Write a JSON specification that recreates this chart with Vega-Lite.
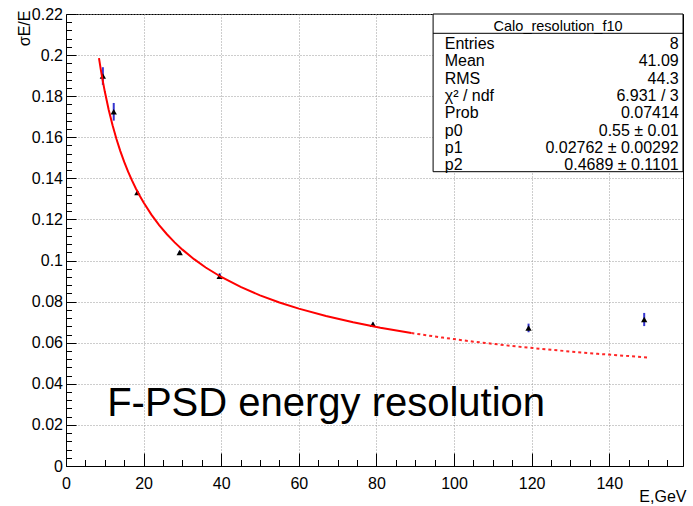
{
  "$schema": "https://vega.github.io/schema/vega-lite/v6.json",
  "width": 617,
  "height": 452,
  "autosize": {"type": "none"},
  "padding": {"left": 66, "top": 14, "right": 10, "bottom": 40},
  "background": "white",
  "config": {
    "view": {"stroke": "#000000", "strokeWidth": 1},
    "font": "Liberation Sans",
    "axis": {"domainColor": "#000000", "tickColor": "#000000", "labelColor": "#000000", "titleColor": "#000000", "labelFont": "Liberation Sans", "titleFont": "Liberation Sans", "titleFontWeight": "normal"}
  },
  "datasets": {
    "points": [
      {"E": 9.5, "sigma": 0.1898, "err": 0.0043},
      {"E": 12.3, "sigma": 0.1724, "err": 0.0043},
      {"E": 18.4, "sigma": 0.1331, "err": 0.0008},
      {"E": 29.3, "sigma": 0.1039, "err": 0.0008},
      {"E": 39.6, "sigma": 0.0924, "err": 0.0014},
      {"E": 79.1, "sigma": 0.0690, "err": 0.0008},
      {"E": 119.2, "sigma": 0.0672, "err": 0.0021},
      {"E": 149.0, "sigma": 0.0713, "err": 0.0032}
    ],
    "fit": [
      {"E": 8.5, "f": 0.19848}, {"E": 9, "f": 0.19258}, {"E": 9.5, "f": 0.18719}, {"E": 10, "f": 0.18224},
      {"E": 11, "f": 0.17344}, {"E": 12, "f": 0.16583}, {"E": 13, "f": 0.15916}, {"E": 14, "f": 0.15327},
      {"E": 15, "f": 0.14801}, {"E": 16, "f": 0.14328}, {"E": 17, "f": 0.13899}, {"E": 18, "f": 0.13508},
      {"E": 19, "f": 0.13150}, {"E": 20, "f": 0.12821}, {"E": 22, "f": 0.12234}, {"E": 24, "f": 0.11726},
      {"E": 26, "f": 0.11280}, {"E": 28, "f": 0.10884}, {"E": 30, "f": 0.10531}, {"E": 33, "f": 0.10066},
      {"E": 36, "f": 0.09662}, {"E": 40, "f": 0.09199}, {"E": 45, "f": 0.08714}, {"E": 50, "f": 0.08307},
      {"E": 55, "f": 0.07960}, {"E": 60, "f": 0.07659}, {"E": 67, "f": 0.07299}, {"E": 74, "f": 0.06994},
      {"E": 81, "f": 0.06731}, {"E": 89, "f": 0.06473}, {"E": 97, "f": 0.06249}, {"E": 105, "f": 0.06053},
      {"E": 115, "f": 0.05840}, {"E": 125, "f": 0.05654}, {"E": 137, "f": 0.05461}, {"E": 150, "f": 0.05282}
    ],
    "stats": [
      {"line": 1, "label": "Entries", "value": "8"},
      {"line": 2, "label": "Mean", "value": "41.09"},
      {"line": 3, "label": "RMS", "value": "44.3"},
      {"line": 4, "label": "χ² / ndf", "value": "6.931 / 3"},
      {"line": 5, "label": "Prob", "value": "0.07414"},
      {"line": 6, "label": "p0", "value": "0.55 ± 0.01"},
      {"line": 7, "label": "p1", "value": "0.02762 ± 0.00292"},
      {"line": 8, "label": "p2", "value": "0.4689 ± 0.1101"}
    ],
    "one": [{}]
  },
  "layer": [
    {
      "data": {"name": "points"},
      "mark": {"type": "errorbar", "color": "#3535d0", "thickness": 2},
      "encoding": {
        "x": {"field": "E", "type": "quantitative", "scale": {"domain": [0, 159], "nice": false, "zero": false}, "axis": null},
        "y": {"field": "sigma", "type": "quantitative", "scale": {"domain": [0, 0.22], "nice": false, "zero": false}, "axis": null},
        "yError": {"field": "err"}
      }
    },
    {
      "data": {"name": "points"},
      "mark": {"type": "point", "shape": "triangle-up", "filled": true, "color": "#000000", "size": 40, "opacity": 1},
      "encoding": {
        "x": {"field": "E", "type": "quantitative", "scale": {"domain": [0, 159], "nice": false, "zero": false},
          "axis": {"orient": "bottom", "values": [0, 20, 40, 60, 80, 100, 120, 140], "format": "d", "tickSize": -13, "labelPadding": 22, "labelFontSize": 16, "labelFlush": false, "labelOverlap": false, "grid": true, "gridColor": "#9a9a9a", "gridDash": [1, 2], "gridWidth": 1, "title": "E,GeV", "titleFontSize": 16, "titleAlign": "right", "titleAnchor": "end", "titleX": 620, "titleY": 35, "titleBaseline": "alphabetic"}},
        "y": {"field": "sigma", "type": "quantitative", "scale": {"domain": [0, 0.22], "nice": false, "zero": false},
          "axis": {"orient": "left", "values": [0, 0.02, 0.04, 0.06, 0.08, 0.1, 0.12, 0.14, 0.16, 0.18, 0.2, 0.22], "format": "~g", "tickSize": -10, "labelPadding": 13.5, "labelFontSize": 16, "labelFlush": false, "labelOverlap": false, "grid": true, "gridColor": "#9a9a9a", "gridDash": [1, 2], "gridWidth": 1, "title": "σE/E", "titleFontSize": 16, "titleAngle": -90, "titleAlign": "right", "titleAnchor": "end", "titleBaseline": "middle", "titleX": -42, "titleY": -4}}
      }
    },
    {
      "data": {"name": "fit"},
      "transform": [{"filter": "datum.E <= 89"}],
      "mark": {"type": "line", "color": "#ff0000", "strokeWidth": 2},
      "encoding": {
        "x": {"field": "E", "type": "quantitative",
          "axis": {"orient": "bottom", "values": [5, 10, 15, 25, 30, 35, 45, 50, 55, 65, 70, 75, 85, 90, 95, 105, 110, 115, 125, 130, 135, 145, 150, 155], "tickSize": -6.5, "labels": false, "domain": false, "grid": false, "title": null}},
        "y": {"field": "f", "type": "quantitative", "scale": {"domain": [0, 0.22], "nice": false, "zero": false},
          "axis": {"orient": "left", "values": [0.004, 0.008, 0.012, 0.016, 0.024, 0.028, 0.032, 0.036, 0.044, 0.048, 0.052, 0.056, 0.064, 0.068, 0.072, 0.076, 0.084, 0.088, 0.092, 0.096, 0.104, 0.108, 0.112, 0.116, 0.124, 0.128, 0.132, 0.136, 0.144, 0.148, 0.152, 0.156, 0.164, 0.168, 0.172, 0.176, 0.184, 0.188, 0.192, 0.196, 0.204, 0.208, 0.212, 0.216], "tickSize": -5.5, "labels": false, "domain": false, "grid": false, "title": null}}
      }
    },
    {
      "data": {"name": "fit"},
      "transform": [{"filter": "datum.E >= 89"}],
      "mark": {"type": "line", "color": "#ff0000", "strokeWidth": 2, "strokeDash": [3, 3], "opacity": 0.85},
      "encoding": {
        "x": {"field": "E", "type": "quantitative", "axis": null},
        "y": {"field": "f", "type": "quantitative", "scale": {"domain": [0, 0.22], "nice": false, "zero": false}, "axis": null}
      }
    },
    {
      "data": {"name": "one"},
      "mark": {"type": "text", "text": "F-PSD energy resolution", "font": "Liberation Sans", "fontSize": 40, "align": "left", "baseline": "alphabetic", "color": "#000000"},
      "encoding": {
        "x": {"datum": 10.6, "type": "quantitative", "axis": null},
        "y": {"datum": 0.0245, "type": "quantitative", "scale": {"domain": [0, 0.22], "nice": false, "zero": false}, "axis": null}
      }
    },
    {
      "data": {"name": "one"},
      "mark": {"type": "rect", "fill": "#ffffff", "stroke": "#000000", "strokeWidth": 1},
      "encoding": {
        "x": {"datum": 94.6, "type": "quantitative", "axis": null},
        "x2": {"datum": 159},
        "y": {"datum": -0.734, "type": "quantitative", "scale": {"domain": [-0.734, 25.39], "reverse": true, "nice": false, "zero": false}, "axis": null},
        "y2": {"datum": 8.38}
      }
    },
    {
      "data": {"name": "one"},
      "mark": {"type": "rule", "color": "#000000", "strokeWidth": 1},
      "encoding": {
        "x": {"datum": 94.6, "type": "quantitative", "axis": null},
        "x2": {"datum": 159},
        "y": {"datum": 0.382, "type": "quantitative", "scale": {"domain": [-0.734, 25.39], "reverse": true, "nice": false, "zero": false}, "axis": null}
      }
    },
    {
      "data": {"name": "one"},
      "mark": {"type": "text", "text": "Calo_resolution_f10", "fontSize": 14.5, "align": "center", "baseline": "middle", "color": "#000000"},
      "encoding": {
        "x": {"datum": 126.8, "type": "quantitative", "axis": null},
        "y": {"datum": 0, "type": "quantitative", "scale": {"domain": [-0.734, 25.39], "reverse": true, "nice": false, "zero": false}, "axis": null}
      }
    },
    {
      "data": {"name": "stats"},
      "mark": {"type": "text", "fontSize": 16, "align": "left", "baseline": "middle", "color": "#000000"},
      "encoding": {
        "x": {"datum": 97.6, "type": "quantitative", "axis": null},
        "y": {"field": "line", "type": "quantitative", "scale": {"domain": [-0.734, 25.39], "reverse": true, "nice": false, "zero": false}, "axis": null},
        "text": {"field": "label"}
      }
    },
    {
      "data": {"name": "stats"},
      "mark": {"type": "text", "fontSize": 16, "align": "right", "baseline": "middle", "color": "#000000"},
      "encoding": {
        "x": {"datum": 157.9, "type": "quantitative", "axis": null},
        "y": {"field": "line", "type": "quantitative", "scale": {"domain": [-0.734, 25.39], "reverse": true, "nice": false, "zero": false}, "axis": null},
        "text": {"field": "value"}
      }
    }
  ],
  "resolve": {"scale": {"y": "independent"}, "axis": {"x": "independent", "y": "independent"}}
}
